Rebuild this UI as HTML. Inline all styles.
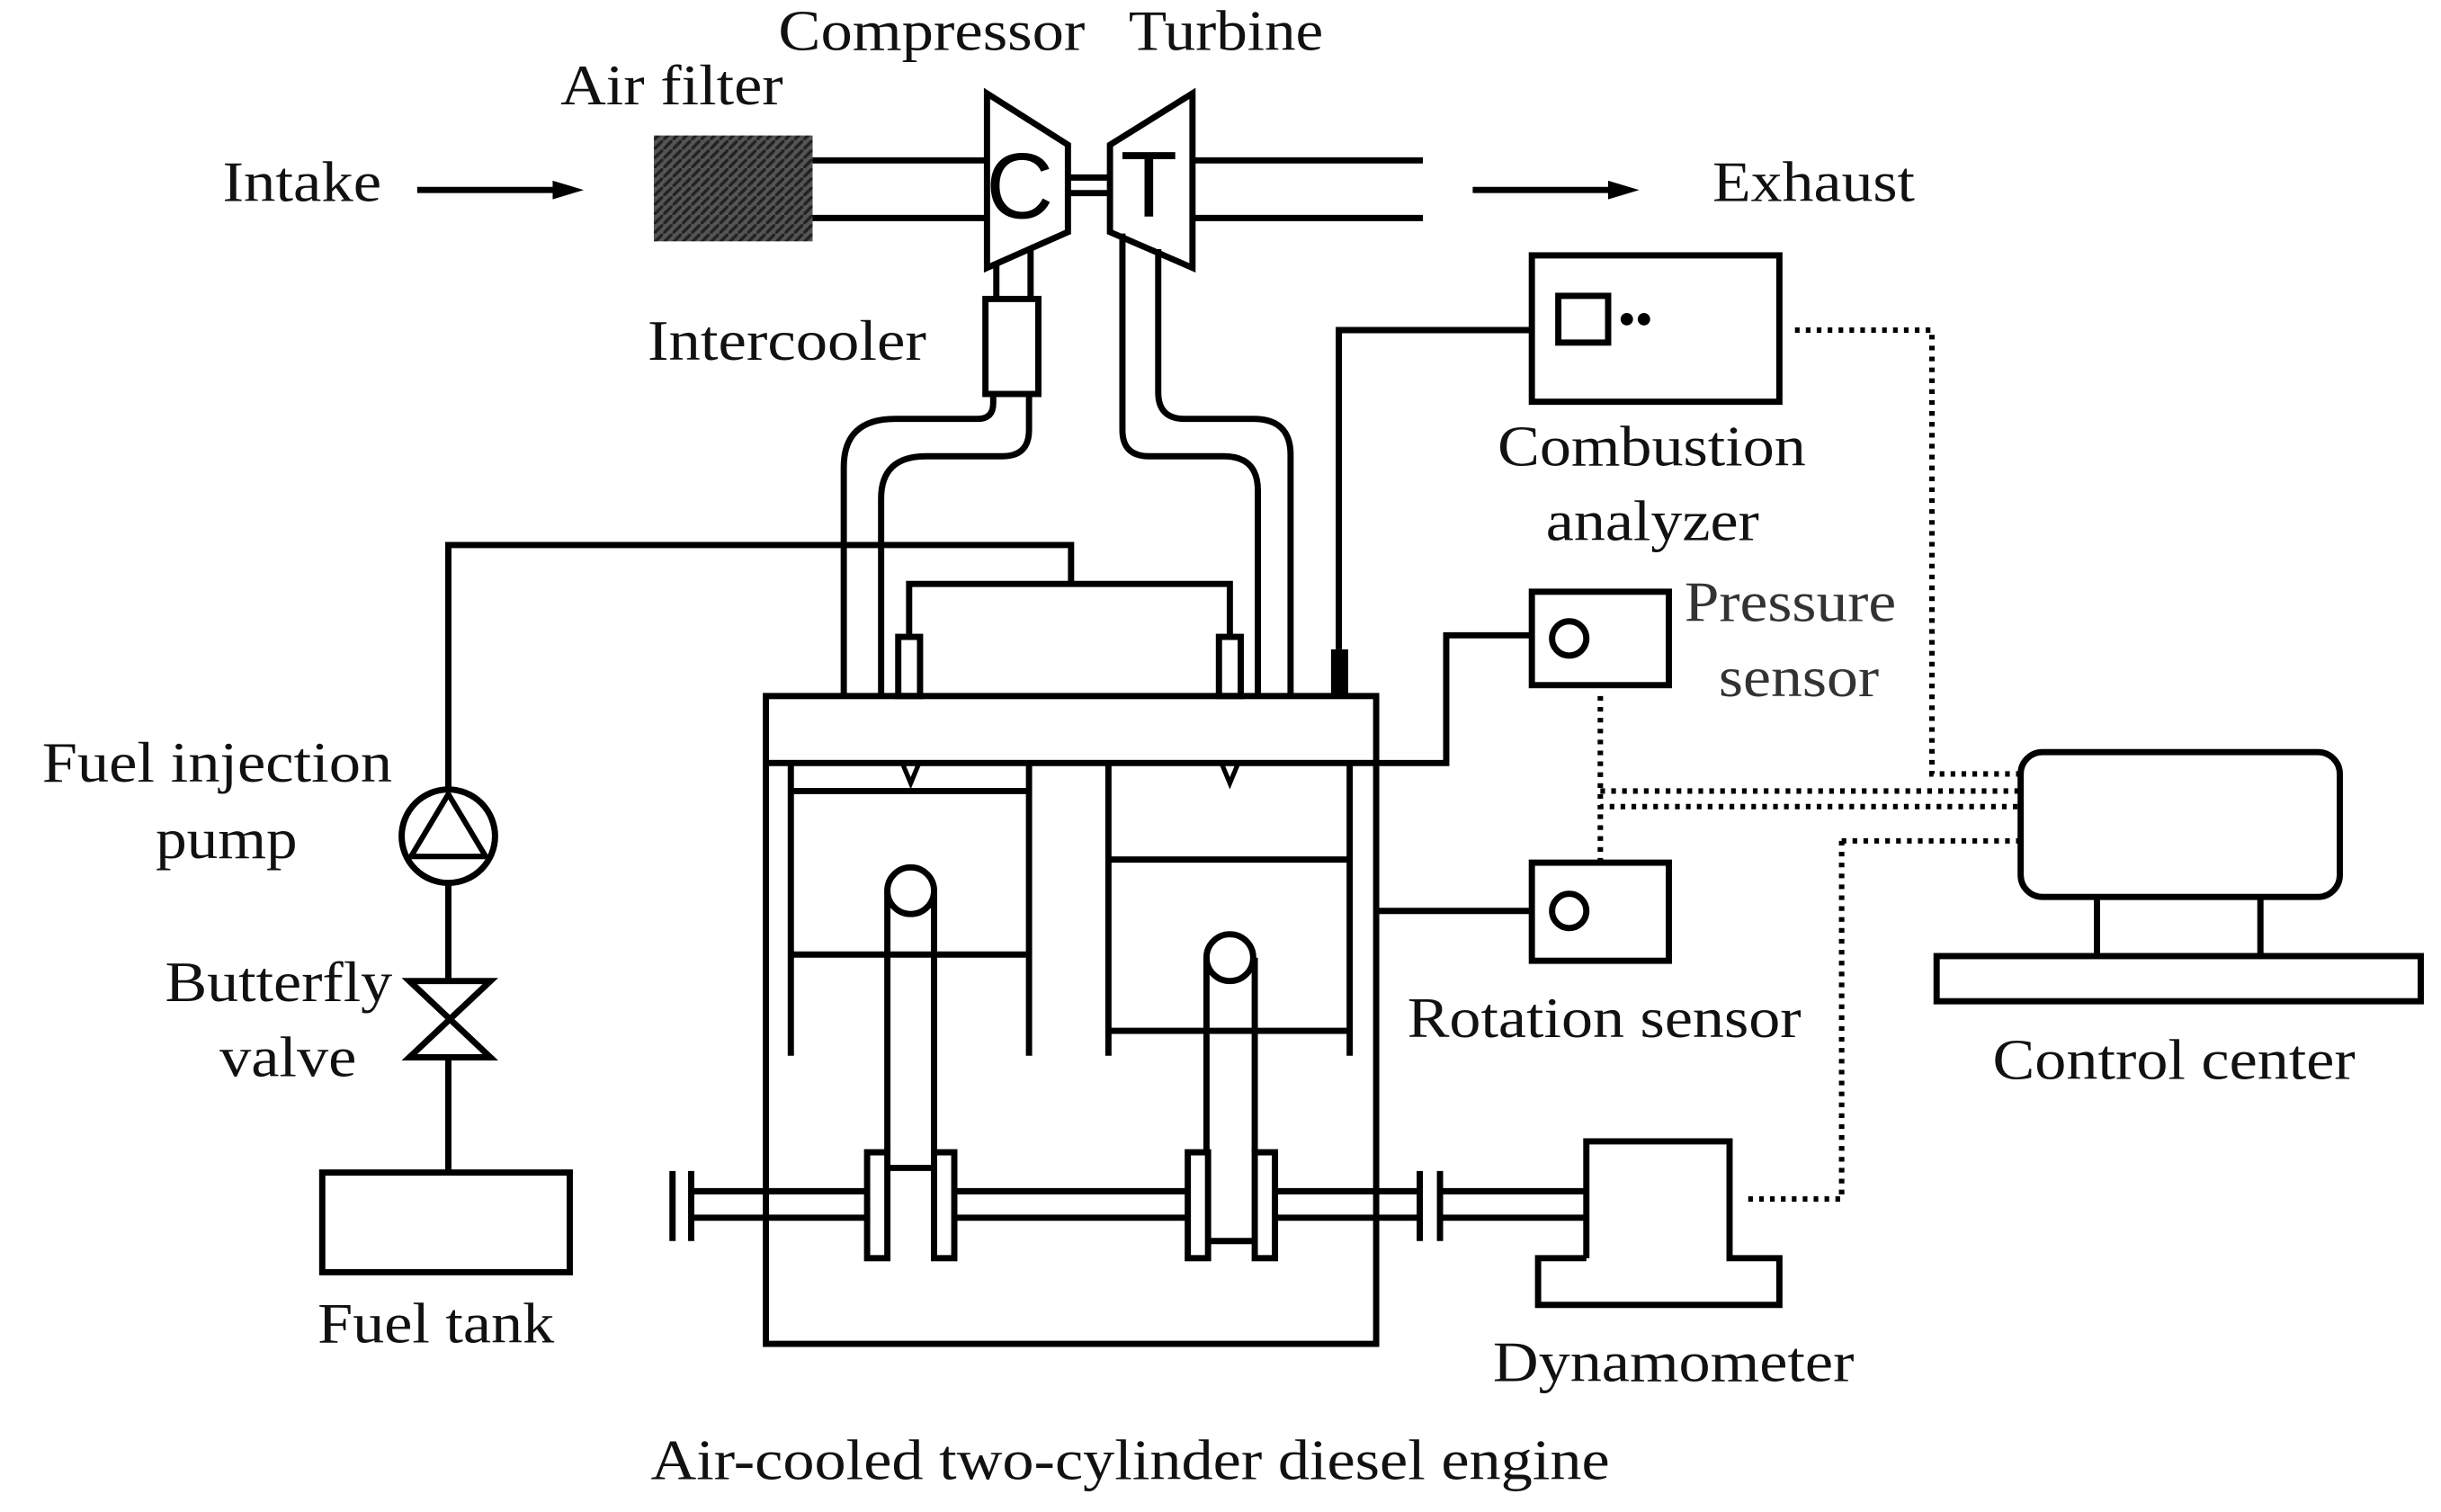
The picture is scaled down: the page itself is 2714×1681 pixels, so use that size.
<!DOCTYPE html>
<html><head><meta charset="utf-8"><style>html,body{margin:0;padding:0;background:#fff}svg{display:block}</style></head>
<body>
<svg width="2714" height="1681" viewBox="0 0 1568 971" preserveAspectRatio="none" xmlns="http://www.w3.org/2000/svg">
<defs>
<pattern id="h" width="6" height="6" patternUnits="userSpaceOnUse"><rect width="6" height="6" fill="#555"/><path d="M0 6L6 0" stroke="#222" stroke-width="2"/></pattern>
</defs>
<g font-family="Liberation Serif, serif" font-size="37" fill="#111">
<text x="143" y="129" textLength="102" lengthAdjust="spacingAndGlyphs">Intake</text>
<text x="500" y="32" textLength="197" lengthAdjust="spacingAndGlyphs">Compressor</text>
<text x="725" y="32" textLength="125" lengthAdjust="spacingAndGlyphs">Turbine</text>
<text x="360" y="67" textLength="143" lengthAdjust="spacingAndGlyphs">Air filter</text>
<text x="1100" y="129" textLength="130" lengthAdjust="spacingAndGlyphs">Exhaust</text>
<text x="416" y="231" textLength="179" lengthAdjust="spacingAndGlyphs">Intercooler</text>
<text x="962" y="299" textLength="198" lengthAdjust="spacingAndGlyphs">Combustion</text>
<text x="993" y="347" textLength="137" lengthAdjust="spacingAndGlyphs">analyzer</text>
<text x="1082" y="399" fill="#333" textLength="136" lengthAdjust="spacingAndGlyphs">Pressure</text>
<text x="1104" y="447" fill="#333" textLength="103" lengthAdjust="spacingAndGlyphs">sensor</text>
<text x="27" y="502" textLength="225" lengthAdjust="spacingAndGlyphs">Fuel injection</text>
<text x="100" y="551" textLength="91" lengthAdjust="spacingAndGlyphs">pump</text>
<text x="106" y="643" textLength="146" lengthAdjust="spacingAndGlyphs">Butterfly</text>
<text x="141" y="691" textLength="88" lengthAdjust="spacingAndGlyphs">valve</text>
<text x="904" y="666" textLength="253" lengthAdjust="spacingAndGlyphs">Rotation sensor</text>
<text x="1280" y="693" textLength="233" lengthAdjust="spacingAndGlyphs">Control center</text>
<text x="204" y="862" textLength="152" lengthAdjust="spacingAndGlyphs">Fuel tank</text>
<text x="959" y="887" textLength="232" lengthAdjust="spacingAndGlyphs">Dynamometer</text>
<text x="418" y="950" textLength="616" lengthAdjust="spacingAndGlyphs">Air-cooled two-cylinder diesel engine</text>
</g>
<g fill="none" stroke="#000" stroke-width="4">
<line x1="268" y1="122" x2="360" y2="122"/>
<line x1="946" y1="122" x2="1038" y2="122"/>
</g>
<path d="M375 122L355 116L355 128Z M1053 122L1033 116L1033 128Z" fill="#000"/>
<rect x="420" y="87" width="102" height="68" fill="url(#h)"/>
<g fill="none" stroke="#000" stroke-width="4">
<path d="M522 103H634M522 140H634"/>
<path d="M634 60L686 93V149L634 172Z"/>
<path d="M766 60L713 93V149L766 172Z"/>
<path d="M686 114H713M686 124H713"/>
<path d="M766 103H914M766 140H914"/>
<path d="M640 169V192M662 160V192"/>
<rect x="633" y="192" width="34" height="61"/>
<path d="M638 253V259Q638 269 628 269H575Q542 269 542 300V447"/>
<path d="M661 253V276Q661 293 644 293H595Q566 293 566 320V447"/>
<path d="M721 150V276Q721 293 738 293H786Q808 293 808 315V447"/>
<path d="M744 160V252Q744 269 761 269H805Q829 269 829 292V447"/>
<rect x="492" y="447" width="392" height="43"/>
<path d="M492 490V863H884V490"/>
<rect x="577" y="409" width="14" height="38"/>
<rect x="783" y="409" width="14" height="38"/>
<path d="M288 507V350H688V375M584 409V375H790V409"/>
<path d="M860 417V212H984"/>
<path d="M580 491L585 503L590 491M785 491L790 503L795 491" stroke-width="3"/>
<path d="M508 490V678M661 490V678M712 490V678M867 490V678"/>
<path d="M508 508H661M508 613H661M712 552H867M712 662H867"/>
<circle cx="585" cy="572" r="15"/>
<circle cx="790" cy="615" r="15"/>
<path d="M570 572V740M600 572V740M570 750H600"/>
<path d="M775 615V740M806 615V740M776 797H806"/>
<rect x="557" y="740" width="13" height="68"/>
<rect x="600" y="740" width="13" height="68"/>
<rect x="763" y="740" width="13" height="68"/>
<rect x="806" y="740" width="13" height="68"/>
<path d="M432 752V797M444 752V797M444 765H557M444 782H557M613 765H763M613 782H763M819 765H912M819 782H912M912 752V797M925 752V797M925 765H1019M925 782H1019"/>
<path d="M1019 808V733H1111V808H1143V838H988V808H1019"/>
<path d="M884 490H929V408H984M884 585H984"/>
<rect x="984" y="164" width="159" height="94"/>
<rect x="1001" y="190" width="32" height="30"/>
<rect x="984" y="380" width="88" height="60"/>
<circle cx="1008" cy="410" r="11"/>
<rect x="984" y="554" width="88" height="63"/>
<circle cx="1008" cy="585" r="11"/>
<rect x="1298" y="483" width="205" height="93" rx="14"/>
<path d="M1347 576V614M1452 576V614"/>
<rect x="1244" y="614" width="311" height="29"/>
<circle cx="288" cy="537" r="30"/>
<path d="M288 510L264 550H312Z" stroke-width="3.5"/>
<path d="M288 567V630M288 679V753"/>
<path d="M263 630H315L263 679H315Z"/>
<rect x="207" y="753" width="159" height="64"/>
</g>
<circle cx="1045" cy="205" r="4" fill="#000"/><circle cx="1056" cy="205" r="4" fill="#000"/>
<rect x="855" y="417" width="11" height="30" fill="#000"/>
<g font-family="Liberation Sans, sans-serif" font-size="60" fill="#000" text-anchor="middle">
<text x="655" y="140">C</text><text x="738" y="139">T</text>
</g>
<g fill="none" stroke="#000" stroke-width="3.5" stroke-dasharray="3,4">
<path d="M1153 212H1241V497H1297"/>
<path d="M1028 447V518H1297M1028 508H1297M1028 554V518"/>
<path d="M1183 540H1297M1183 540V770H1122"/>
</g>
</svg>
</body></html>
